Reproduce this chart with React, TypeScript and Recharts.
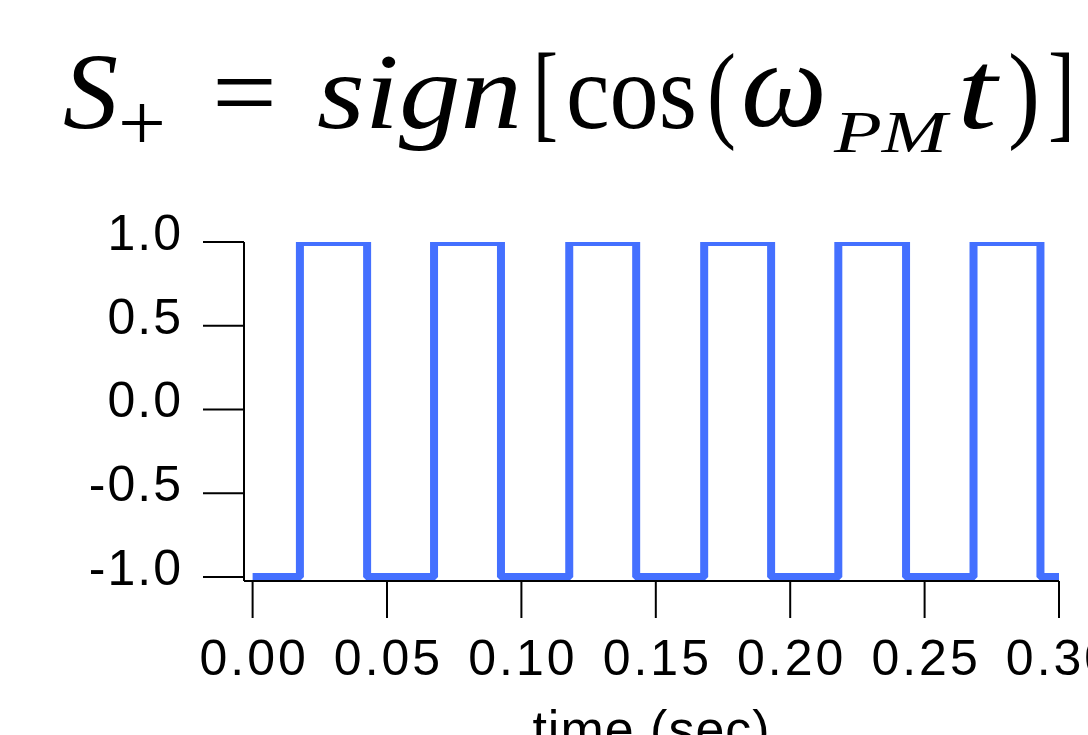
import { LineChart, Line, XAxis, YAxis } from 'recharts';

// square wave S+: switch times (s) and the level after each switch
const switchTimes = [0, 0.0176, 0.0426, 0.0675, 0.0924, 0.1178, 0.1427, 0.168, 0.1929, 0.2179, 0.2431, 0.2682, 0.2931, 0.3];
const levels = [-1, 1, -1, 1, -1, 1, -1, 1, -1, 1, -1, 1, -1, -1];

const xTicks = [0, 0.05, 0.1, 0.15, 0.2, 0.25, 0.3];
const yTicks = [-1, -0.5, 0, 0.5, 1];

const data = switchTimes.map((t, i) => ({ t, s: levels[i] }));

const SANS = "'Liberation Sans', Arial, sans-serif";
const SERIF = "'Liberation Serif', 'Times New Roman', serif";
const LINE = '#4470ff';

const YTick = (props: any) => {
  const { x, y, payload } = props;
  return (
    <text x={x + 2} y={y + 8} textAnchor="end" fontSize={50} fontFamily={SANS} letterSpacing={2} fill="#000">
      {Number(payload.value).toFixed(1)}
    </text>
  );
};

const XTick = (props: any) => {
  const { x, y, payload } = props;
  return (
    <text x={x + 1.5} y={y + 57} textAnchor="middle" fontSize={50} fontFamily={SANS} letterSpacing={3} fill="#000">
      {Number(payload.value).toFixed(2)}
    </text>
  );
};

const AxisTitle = (props: any) => {
  const vb = props.viewBox || { x: 244, y: 581, width: 815, height: 154 };
  return (
    <text x={vb.x + vb.width / 2} y={vb.y + 166} textAnchor="middle" fontSize={52} fontFamily={SANS} letterSpacing={1} fill="#000">
      time (sec)
    </text>
  );
};

function Title() {
  const it = { fontFamily: SERIF, fontStyle: 'italic' as const, fill: '#000' };
  const up = { fontFamily: SERIF, fill: '#000' };
  return (
    <svg width={1088} height={200} style={{ position: 'absolute', left: 0, top: 0 }}>
      <text x={63} y={128} fontSize={108} textLength={55} lengthAdjust="spacingAndGlyphs" {...it}>S</text>
      <text x={118} y={150} fontSize={80} textLength={48} lengthAdjust="spacingAndGlyphs" {...up}>+</text>
      <text x={212} y={128} fontSize={108} textLength={65} lengthAdjust="spacingAndGlyphs" {...up}>=</text>
      <text x={317} y={128} fontSize={108} textLength={205} lengthAdjust="spacingAndGlyphs" {...it}>sign</text>
      <text x={533} y={128} fontSize={108} textLength={25} lengthAdjust="spacingAndGlyphs" {...up}>[</text>
      <text x={566} y={128} fontSize={108} textLength={131} lengthAdjust="spacingAndGlyphs" {...up}>cos</text>
      <text x={707} y={128} fontSize={108} textLength={29} lengthAdjust="spacingAndGlyphs" {...up}>(</text>
      <text x={741} y={126} fontSize={122} textLength={86} lengthAdjust="spacingAndGlyphs" {...it}>ω</text>
      <text x={834} y={152} fontSize={60} textLength={113} lengthAdjust="spacingAndGlyphs" {...it}>PM</text>
      <text x={957} y={128} fontSize={112} textLength={40} lengthAdjust="spacingAndGlyphs" {...it}>t</text>
      <text x={1008} y={128} fontSize={108} textLength={32} lengthAdjust="spacingAndGlyphs" {...up}>)</text>
      <text x={1048} y={128} fontSize={108} textLength={27} lengthAdjust="spacingAndGlyphs" {...up}>]</text>
    </svg>
  );
}

export default function App() {
  return (
    <div style={{ position: 'absolute', left: 0, top: 0, width: 1088, height: 735, background: '#fff', overflow: 'hidden' }}>
      <LineChart width={1088} height={735} data={data} margin={{ top: 242, right: 29, bottom: 0, left: 0 }}>
        <XAxis
          dataKey="t"
          type="number"
          domain={[-0.0032, 0.3]}
          ticks={xTicks}
          allowDataOverflow
          height={154}
          tickSize={37}
          tickMargin={0}
          tick={<XTick />}
          axisLine={{ stroke: '#000', strokeWidth: 2 }}
          tickLine={{ stroke: '#000', strokeWidth: 2 }}
          label={<AxisTitle />}
        />
        <YAxis
          type="number"
          domain={[-1.024, 1]}
          ticks={yTicks}
          allowDataOverflow
          width={244}
          tickSize={41}
          tickMargin={22}
          tick={<YTick />}
          axisLine={{ stroke: '#000', strokeWidth: 2 }}
          tickLine={{ stroke: '#000', strokeWidth: 2 }}
        />
        <Line
          dataKey="s"
          type="stepAfter"
          stroke={LINE}
          strokeWidth={8}
          strokeLinejoin="bevel"
          strokeLinecap="butt"
          dot={false}
          activeDot={false}
          isAnimationActive={false}
        />
      </LineChart>
      <Title />
    </div>
  );
}
